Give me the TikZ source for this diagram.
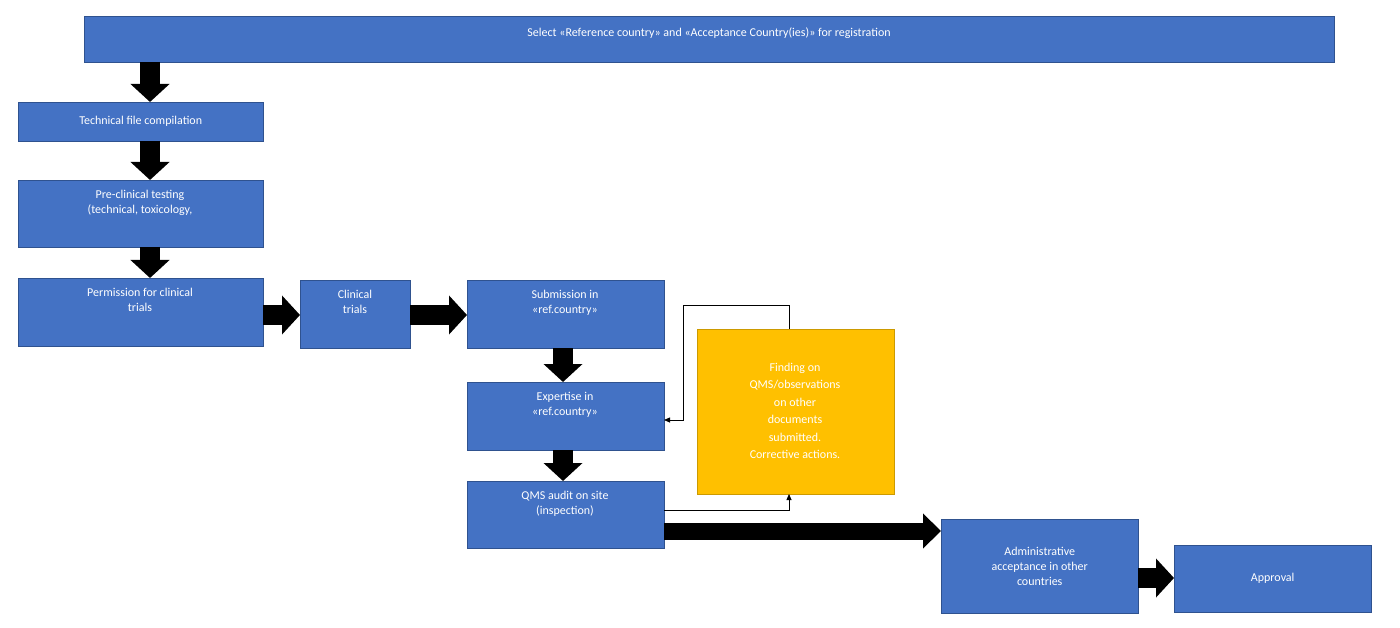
\documentclass[tikz,border=0pt]{standalone}
\usepackage{fontspec}
\setmainfont{Carlito}
\usetikzlibrary{arrows.meta}
\definecolor{bx}{HTML}{4472C4}
\definecolor{bxd}{HTML}{2F528F}
\definecolor{yl}{HTML}{FFC000}
\begin{document}
\begin{tikzpicture}[x=1pt,y=-1pt,
 box/.style={draw=bxd,fill=bx,text=white,font=\fontsize{12}{15}\selectfont,align=center,inner sep=0pt,anchor=north west},
 big/.style={line width=20pt,draw=black,-{Triangle[length=18pt,width=38pt]},shorten >=0pt},
 thin/.style={draw=black,line width=0.8pt,-{Triangle[length=6pt,width=5pt]}}]
\useasboundingbox (0,0) rectangle (1400,628);
\node[box,minimum width=1250,minimum height=46] (top) at (84,16) {\raisebox{0pt}{}};
\node[font=\fontsize{12}{15}\selectfont,text=white] at (709,33) {Select «Reference country» and «Acceptance Country(ies)» for registration};
\node[box,minimum width=245,minimum height=39] (tech) at (18,102) {Technical file compilation};
\node[box,minimum width=245,minimum height=67] (pre) at (18,180) {};
\node[text=white,font=\fontsize{12}{15}\selectfont,align=center,anchor=north] at (140,187) {Pre-clinical testing\\(technical, toxicology,};
\node[box,minimum width=245,minimum height=68] (perm) at (18,278) {};
\node[text=white,font=\fontsize{12}{15}\selectfont,align=center,anchor=north] at (140,285) {Permission for clinical\\trials};
\node[box,minimum width=110,minimum height=68] (clin) at (300,280) {};
\node[text=white,font=\fontsize{12}{15}\selectfont,align=center,anchor=north] at (355,287) {Clinical\\trials};
\node[box,minimum width=197,minimum height=68] (sub) at (467,280) {};
\node[text=white,font=\fontsize{12}{15}\selectfont,align=center,anchor=north] at (565,287) {Submission in\\«ref.country»};
\node[box,minimum width=197,minimum height=68] (exp) at (467,382) {};
\node[text=white,font=\fontsize{12}{15}\selectfont,align=center,anchor=north] at (565,389) {Expertise in\\«ref.country»};
\node[box,minimum width=197,minimum height=67] (qms) at (467,481) {};
\node[text=white,font=\fontsize{12}{15}\selectfont,align=center,anchor=north] at (565,488) {QMS audit on site\\(inspection)};
\node[box,fill=yl,draw=yl!80!black,minimum width=197,minimum height=165] (find) at (697,329) {};
\node[text=white,font=\fontsize{12}{17.5}\selectfont,align=center] at (795,411) {Finding on\\QMS/observations\\on other\\documents\\submitted.\\Corrective actions.};
\node[box,minimum width=197,minimum height=94] (adm) at (941,519) {Administrative\\acceptance in other\\countries};
\node[box,minimum width=197,minimum height=67] (app) at (1174,545) {Approval};
\draw[big] (150,62) -- (150,102);
\draw[big] (150,141) -- (150,180);
\draw[big] (150,247) -- (150,278);
\draw[big] (263,315) -- (300,315);
\draw[big] (410,315) -- (467,315);
\draw[big] (563,348) -- (563,382);
\draw[big] (563,450) -- (563,481);
\draw[line width=17pt,-{Triangle[length=18pt,width=34pt]}] (664,531) -- (941,531);
\draw[big] (1138,578) -- (1174,578);
\draw[thin] (789,329) -- (789,305) -- (683,305) -- (683,420) -- (664,420);
\draw[thin] (664,510) -- (789,510) -- (789,494);
\end{tikzpicture}
\end{document}
